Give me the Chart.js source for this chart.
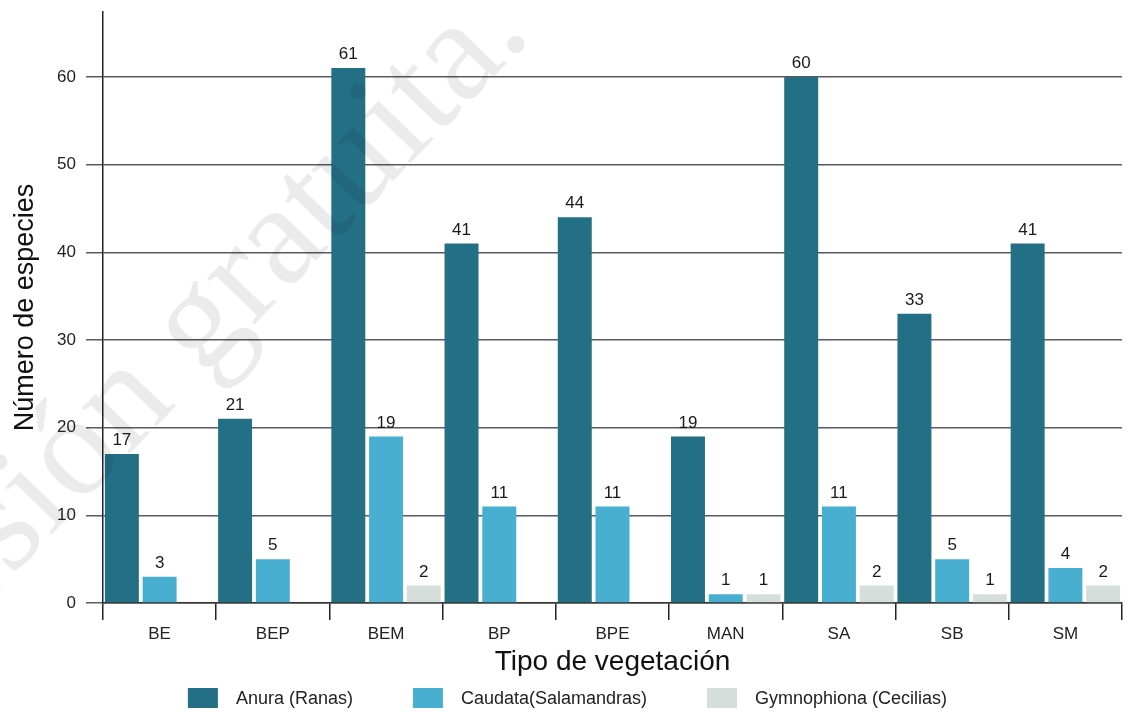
<!DOCTYPE html>
<html lang="es">
<head>
<meta charset="utf-8">
<title>Número de especies por tipo de vegetación</title>
<script src="https://cdn.jsdelivr.net/npm/chart.js@4.4.1/dist/chart.umd.min.js"></script>
<style>
  html, body { margin: 0; padding: 0; background: #fff; }
  #wrap { width: 1135px; height: 715px; position: relative; }
</style>
</head>
<body>
<div id="wrap"><canvas id="chart-1"></canvas></div>
<script>
  const vegetationTypes = ['BE', 'BEP', 'BEM', 'BP', 'BPE', 'MAN', 'SA', 'SB', 'SM'];

  const anura = [17, 21, 61, 41, 44, 19, 60, 33, 41];
  const caudata = [3, 5, 19, 11, 11, 1, 11, 5, 4];
  const gymnophiona = [null, null, 2, null, null, 1, 2, 1, 2];

  const yTicks = [0, 10, 20, 30, 40, 50, 60];

  const FONT = '"Liberation Sans", Arial, sans-serif';

  // numbers above each bar
  const barValues = {
    id: 'barValues',
    afterDatasetsDraw(chart) {
      const ctx = chart.ctx;
      ctx.save();
      ctx.font = '17px ' + FONT;
      ctx.fillStyle = '#1a1a1a';
      ctx.textAlign = 'center';
      ctx.textBaseline = 'bottom';
      chart.data.datasets.forEach((ds, i) => {
        chart.getDatasetMeta(i).data.forEach((bar, j) => {
          const v = ds.data[j];
          if (v === null || v === undefined) return;
          ctx.fillText(String(v), bar.x, bar.y - 5);
        });
      });
      ctx.restore();
    }
  };

  // legend row under the axis title: box, wide gap, label
  const bottomLegend = {
    id: 'bottomLegend',
    afterDraw(chart) {
      const ctx = chart.ctx;
      const box = { w: 30, h: 20 }, textGap = 18, itemGap = 60;
      ctx.save();
      ctx.font = '18px ' + FONT;
      const items = chart.data.datasets.map(ds => ({
        text: ds.label,
        color: ds.backgroundColor,
        w: box.w + textGap + ctx.measureText(ds.label).width
      }));
      const total = items.reduce((s, it) => s + it.w, 0) + itemGap * (items.length - 1);
      let x = (chart.width - total) / 2;
      const cy = chart.height - 17;
      ctx.textBaseline = 'middle';
      ctx.textAlign = 'left';
      items.forEach(it => {
        ctx.fillStyle = it.color;
        ctx.fillRect(x, cy - box.h / 2, box.w, box.h);
        ctx.fillStyle = '#222';
        ctx.fillText(it.text, x + box.w + textGap, cy + 1);
        x += it.w + itemGap;
      });
      ctx.restore();
    }
  };

  // faint diagonal stamp across the plot
  const stamp = {
    id: 'stamp',
    afterDraw(chart) {
      const ctx = chart.ctx;
      ctx.save();
      ctx.globalCompositeOperation = 'multiply';
      ctx.translate(533, 36);
      ctx.rotate(-46 * Math.PI / 180);
      ctx.font = '144px "Liberation Serif", "DejaVu Serif", serif';
      ctx.fillStyle = '#ebebeb';
      ctx.textAlign = 'right';
      ctx.textBaseline = 'alphabetic';
      ctx.fillText('Versión gratuita.', 0, 0);
      ctx.restore();
    }
  };

  const sData = {
    labels: vegetationTypes,
    datasets: [
      { label: 'Anura (Ranas)', data: anura, backgroundColor: '#236f86' },
      { label: 'Caudata(Salamandras)', data: caudata, backgroundColor: '#48afd1' },
      { label: 'Gymnophiona (Cecilias)', data: gymnophiona, backgroundColor: '#d6dedb' }
    ]
  };

  const sConfig = {
    type: 'bar',
    data: sData,
    options: {
      responsive: true,
      maintainAspectRatio: false,
      animation: false,
      categoryPercentage: 1.0,
      barPercentage: 0.9,
      borderWidth: 0,
      layout: { padding: { top: 12, right: 13, bottom: 34, left: 0 } },
      plugins: {
        legend: { display: false },
        tooltip: { enabled: false }
      },
      scales: {
        x: {
          offset: true,
          grid: {
            offset: true,
            drawOnChartArea: false,
            drawTicks: true,
            tickLength: 17,
            color: '#222',
            lineWidth: 1.5
          },
          border: { display: true, color: '#333', width: 1.5 },
          ticks: {
            color: '#222',
            padding: 4,
            font: { family: FONT, size: 17 }
          },
          title: {
            display: true,
            text: 'Tipo de vegetación',
            color: '#111',
            font: { family: FONT, size: 28 },
            padding: { top: 0, bottom: 2 }
          },
          afterFit(scale) { scale.height = 78; }
        },
        y: {
          min: 0,
          max: 67.4,
          afterBuildTicks(scale) {
            scale.ticks = yTicks.map(v => ({ value: v }));
          },
          grid: {
            color: '#5a5a5a',
            lineWidth: 1.5,
            tickLength: 17
          },
          border: { display: true, color: '#222', width: 1.5 },
          ticks: {
            color: '#222',
            padding: 10,
            font: { family: FONT, size: 17 }
          },
          title: {
            display: true,
            text: 'Número de especies',
            color: '#111',
            font: { family: FONT, size: 27 },
            padding: { top: 9, bottom: 9 }
          },
          afterFit(scale) {
            scale.width = 103;
            scale.paddingTop = 0;
          }
        }
      }
    },
    plugins: [barValues, bottomLegend, stamp]
  };

  const chart1 = new Chart(
    document.getElementById('chart-1'),
    sConfig
  );
</script>
</body>
</html>
